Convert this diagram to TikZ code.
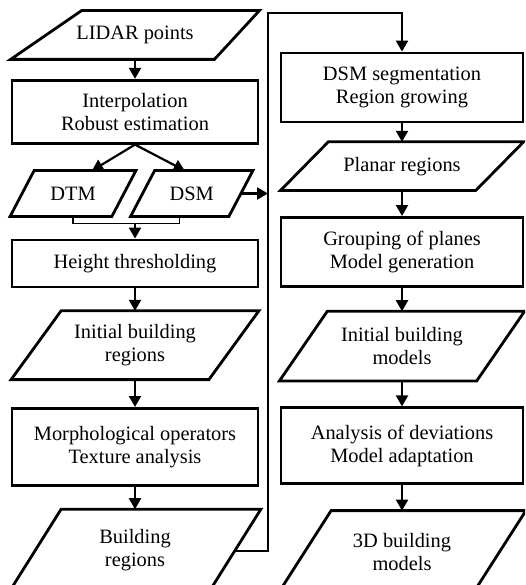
\documentclass[tikz,border=0pt]{standalone}
\usepackage{fontspec}
\setmainfont{Liberation Serif}
\usetikzlibrary{positioning, arrows.meta}

\tikzset{
  procbox/.style={draw, line width=2.8pt, align=center, inner sep=0pt,
    font=\fontsize{20.4}{23}\selectfont},
  % slanted data box: x offsets of the corners nw/ne/se/sw
  databox/.style args={#1/#2/#3/#4}{align=center, inner sep=0pt, outer sep=1.4pt,
    font=\fontsize{20.4}{23}\selectfont,
    append after command={\pgfextra{\draw[line width=2.8pt]
      ([xshift=#1]\tikzlastnode.north west) -- ([xshift=#2]\tikzlastnode.north east) --
      ([xshift=#3]\tikzlastnode.south east) -- ([xshift=#4]\tikzlastnode.south west) -- cycle;}}},
  flow/.style={line width=2.2pt, -{Triangle[length=11pt, width=12pt]}},
  bracket/.style={line width=1.3pt},
}

\begin{document}
\begin{tikzpicture}[x=1pt, y=-1pt]
    \useasboundingbox (0,0) rectangle (525,585);
    \clip (0,0) rectangle (525,585);

    % Left column: building detection
    \node[databox=71pt/0pt/-45pt/0pt, minimum width=246pt, minimum height=46pt] (lidar) at (135,35) {LIDAR points};
    \node[procbox, minimum width=246pt, minimum height=63pt, below=19.4pt of lidar] (interp) {Interpolation\\Robust estimation};
    \node[databox=12pt/12pt/-12pt/-12pt, minimum width=99pt, minimum height=43pt] (dtm) at (73,193.5) {DTM};
    \node[databox=12pt/12pt/-12pt/-12pt, minimum width=95.5pt, minimum height=43pt] (dsm) at (191.75,193.5) {DSM};
    \node[procbox, minimum width=246pt, minimum height=47pt] (height) at (135,263.5) {Height thresholding};
    \node[databox=25pt/25pt/-25pt/-25pt, minimum width=195pt, minimum height=66pt, below=22.4pt of height] (ibr) {Initial building\\regions};
    \node[procbox, minimum width=246pt, minimum height=77pt, below=27.4pt of ibr] (morph) {Morphological operators\\Texture analysis};
    \node[databox=26pt/26pt/-26pt/-26pt, minimum width=197pt, minimum height=80pt, below=22.4pt of morph] (bregions) {Building\\regions};

    % Right column: building reconstruction
    \node[procbox, minimum width=242pt, minimum height=69pt] (dsmseg) at (402,87.5) {DSM segmentation\\Region growing};
    \node[databox=24pt/24pt/-24pt/-24pt, minimum width=192.5pt, minimum height=46pt, below=18.4pt of dsmseg] (planar) {Planar regions};
    \node[procbox, minimum width=242pt, minimum height=69pt, below=25.4pt of planar] (group) {Grouping of planes\\Model generation};
    \node[databox=24pt/24pt/-24pt/-24pt, minimum width=194.5pt, minimum height=67pt, below=23.4pt of group] (ibm) {Initial building\\models};
    \node[procbox, minimum width=242pt, minimum height=76pt, below=25.4pt of ibm] (analysis) {Analysis of deviations\\Model adaptation};
    \node[databox=26.5pt/26.5pt/-26.5pt/-26.5pt, minimum width=192pt, minimum height=80pt, below=25.4pt of analysis] (models3d) {3D building\\models};

    \coordinate (trunk) at (268,13);
    \coordinate (dsmfoot) at ([xshift=-12pt]dsm.south);

    % Connectors
    \draw[flow] (lidar) -- (interp);
    \draw[flow] (interp.south) -- ([xshift=19pt]dtm.north);
    \draw[flow] (interp.south) -- ([xshift=-7pt]dsm.north);
    \draw[bracket] (dtm.south) -- ++(0,7) coordinate (dtmfoot) -| (dsmfoot);
    \coordinate (join) at (dtmfoot -| height.north);
    \draw[flow] (join) -- (height);
    \draw[flow] (height) -- (ibr);
    \draw[flow] (ibr) -- (morph);
    \draw[flow] (morph) -- (bregions);
    \draw[flow] (dsm.east) -- (dsm.east -| trunk);
    \draw[flow] (bregions.east) -| (trunk) -| (dsmseg.north);
    \draw[flow] (dsmseg) -- (planar);
    \draw[flow] (planar) -- (group);
    \draw[flow] (group) -- (ibm);
    \draw[flow] (ibm) -- (analysis);
    \draw[flow] (analysis) -- (models3d);
\end{tikzpicture}
\end{document}
